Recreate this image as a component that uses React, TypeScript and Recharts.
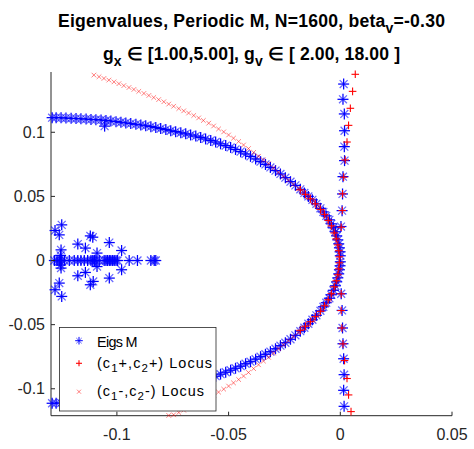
import React from 'react';
import { ScatterChart, Scatter, XAxis, YAxis, Legend } from 'recharts';

type Pt = [number, number];

// ---------- axis settings ----------
const xTickValues = [-0.1, -0.05, 0, 0.05];
const xTickLabels = ['-0.1', '-0.05', '0', '0.05'];
const yTickValues = [-0.1, -0.05, 0, 0.05, 0.1];
const yTickLabels = ['-0.1', '-0.05', '0', '0.05', '0.1'];
const xLimits: [number, number] = [-0.1295, 0.05];
const yLimits: [number, number] = [-0.121, 0.147];

// ---------- titles / legend ----------
const titleLine1 = { main: 'Eigenvalues, Periodic M, N=1600, beta', sub: 'v', tail: '=-0.30' };
const titleLine2 = ['g', 'x', ' \u2208 [1.00,5.00], g', 'v', ' \u2208 [ 2.00, 18.00 ]'];
const legendNames = ['Eigs M', '(c1+,c2+) Locus', '(c1-,c2-) Locus'];

// ---------- Eigs M (blue *) ----------
const eigsUpperBranch: Pt[] = [
  [-0.1290, 0.1114], [-0.1272, 0.1114], [-0.1250, 0.1113], [-0.1228, 0.1111], [-0.1205, 0.1109],
  [-0.1183, 0.1107], [-0.1161, 0.1105], [-0.1138, 0.1103], [-0.1116, 0.1100], [-0.1094, 0.1098],
  [-0.1071, 0.1096], [-0.1049, 0.1092], [-0.1027, 0.1088], [-0.1004, 0.1083], [-0.0982, 0.1078],
  [-0.0960, 0.1073], [-0.0938, 0.1068], [-0.0915, 0.1062], [-0.0893, 0.1057], [-0.0871, 0.1051],
  [-0.0848, 0.1044], [-0.0826, 0.1037], [-0.0804, 0.1029], [-0.0781, 0.1021], [-0.0759, 0.1012],
  [-0.0737, 0.1005], [-0.0714, 0.0996], [-0.0692, 0.0988], [-0.0670, 0.0979], [-0.0647, 0.0970],
  [-0.0625, 0.0960], [-0.0603, 0.0948], [-0.0580, 0.0936], [-0.0558, 0.0924], [-0.0536, 0.0910],
  [-0.0513, 0.0896], [-0.0491, 0.0882], [-0.0469, 0.0866], [-0.0446, 0.0849], [-0.0424, 0.0831],
  [-0.0402, 0.0812], [-0.0379, 0.0792], [-0.0357, 0.0771], [-0.0335, 0.0749], [-0.0313, 0.0726],
  [-0.0290, 0.0701], [-0.0268, 0.0675], [-0.0246, 0.0646], [-0.0223, 0.0615], [-0.0201, 0.0586],
  [-0.0179, 0.0555], [-0.0161, 0.0527], [-0.0143, 0.0500], [-0.0125, 0.0473], [-0.0107, 0.0442],
  [-0.0089, 0.0407], [-0.0076, 0.0379], [-0.0063, 0.0348], [-0.0049, 0.0317], [-0.0040, 0.0286],
  [-0.0031, 0.0255], [-0.0022, 0.0224], [-0.0016, 0.0192], [-0.0011, 0.0161], [-0.0007, 0.0130],
  [-0.0004, 0.0099], [-0.0001, 0.0068], [0.0000, 0.0037], [-0.1055, 0.1048],
];

const eigsLowerBranch: Pt[] = [
  [0.0000, -0.0010], [-0.0001, -0.0041], [-0.0004, -0.0072], [-0.0007, -0.0104], [-0.0011, -0.0135],
  [-0.0016, -0.0166], [-0.0022, -0.0197], [-0.0031, -0.0232], [-0.0040, -0.0267], [-0.0049, -0.0294],
  [-0.0063, -0.0329], [-0.0076, -0.0361], [-0.0089, -0.0392], [-0.0107, -0.0427], [-0.0125, -0.0462],
  [-0.0143, -0.0493], [-0.0161, -0.0524], [-0.0179, -0.0551], [-0.0201, -0.0583], [-0.0223, -0.0614],
  [-0.0246, -0.0641], [-0.0268, -0.0664], [-0.0290, -0.0688], [-0.0313, -0.0711], [-0.0335, -0.0731],
  [-0.0357, -0.0750], [-0.0379, -0.0769], [-0.0402, -0.0789], [-0.0424, -0.0805], [-0.0446, -0.0824],
  [-0.0469, -0.0840], [-0.0491, -0.0855], [-0.0513, -0.0871], [-0.0536, -0.0886], [-0.0558, -0.0902],
  [-0.0580, -0.0914], [-0.0603, -0.0925], [-0.0625, -0.0937], [-0.0647, -0.0949], [-0.0670, -0.0960],
  [-0.0692, -0.0970], [-0.0714, -0.0981], [-0.0737, -0.0990], [-0.0759, -0.0999], [-0.0781, -0.1009],
  [-0.0804, -0.1017], [-0.0826, -0.1026], [-0.0848, -0.1033], [-0.0871, -0.1041], [-0.0893, -0.1048],
  [-0.0915, -0.1054], [-0.0938, -0.1060], [-0.0960, -0.1065], [-0.0982, -0.1071], [-0.1004, -0.1076],
  [-0.1027, -0.1080], [-0.1049, -0.1085], [-0.1071, -0.1089], [-0.1094, -0.1093], [-0.1116, -0.1096],
  [-0.1138, -0.1099], [-0.1161, -0.1102], [-0.1183, -0.1104], [-0.1205, -0.1107], [-0.1228, -0.1109],
  [-0.1250, -0.1111], [-0.1272, -0.1112], [-0.1290, -0.1113],
];

const eigsRealAxisX: number[] = [
  -0.1280, -0.1268, -0.1258, -0.1247, -0.1235, -0.1213, -0.1191, -0.1175, -0.1161, -0.1146,
  -0.1131, -0.1116, -0.1108, -0.1101, -0.1094, -0.1079, -0.1057, -0.1049, -0.1042, -0.1034,
  -0.1027, -0.1019, -0.1012, -0.1004, -0.0997, -0.0945, -0.0908, -0.0848, -0.0833, -0.0826,
];

const eigsComplexCluster: Pt[] = [
  [-0.1247, 0.0278], [-0.1277, 0.0234], [-0.1258, 0.0200], [-0.1250, 0.0083], [-0.1252, 0.0040],
  [-0.1175, 0.0128], [-0.1141, 0.0097], [-0.1119, 0.0192], [-0.1108, 0.0182], [-0.1089, 0.0058],
  [-0.1034, 0.0140], [-0.0979, 0.0078],
  [-0.1250, -0.0059], [-0.1252, -0.0035], [-0.1175, -0.0119], [-0.1141, -0.0093], [-0.1119, -0.0189],
  [-0.1106, -0.0163], [-0.1089, -0.0047], [-0.1034, -0.0137], [-0.0979, -0.0072], [-0.1258, -0.0176],
  [-0.1277, -0.0228], [-0.1247, -0.0280],
];

const eigsVerticalLine: Pt[] = [
  [0.0015, 0.1376], [0.0012, 0.1257], [0.0018, 0.1143], [0.0019, 0.1012], [0.0018, 0.0888],
  [0.0019, 0.0779], [0.0012, 0.0654], [0.0010, 0.0519], [0.0008, 0.0389], [0.0003, 0.0265],
  [0.0004, -0.0259], [0.0008, -0.0389], [0.0010, -0.0526], [0.0012, -0.0649], [0.0015, -0.0766],
  [0.0017, -0.0890], [0.0015, -0.1012], [0.0017, -0.1137],
];

// ---------- (c1+,c2+) locus (red +) ----------
const plusVerticalLocus: Pt[] = [
  [0.0067, 0.1452], [0.0055, 0.1319], [0.0045, 0.1187], [0.0037, 0.1054], [0.0030, 0.0924],
  [0.0022, 0.0784], [0.0015, 0.0650], [0.0010, 0.0520], [0.0009, 0.0390], [0.0004, 0.0260],
  [0.0004, -0.0260], [0.0004, -0.0390], [0.0007, -0.0526], [0.0012, -0.0650], [0.0019, -0.0780],
  [0.0030, -0.0920], [0.0037, -0.1048], [0.0048, -0.1178],
];

const plusArcLocus: Pt[] = [
  [-0.0179, 0.0551], [-0.0156, 0.0516], [-0.0134, 0.0481], [-0.0112, 0.0442], [-0.0089, 0.0399],
  [-0.0071, 0.0360], [-0.0054, 0.0313], [-0.0040, 0.0270], [-0.0027, 0.0215], [-0.0018, 0.0169],
  [-0.0011, 0.0122], [-0.0007, 0.0076], [-0.0004, 0.0029], [-0.0004, -0.0018], [-0.0007, -0.0065],
  [-0.0011, -0.0111], [-0.0018, -0.0158], [-0.0027, -0.0205], [-0.0040, -0.0259], [-0.0054, -0.0306],
  [-0.0071, -0.0353], [-0.0089, -0.0396], [-0.0112, -0.0438], [-0.0134, -0.0477], [-0.0156, -0.0512],
  [-0.0179, -0.0544],
];

// ---------- (c1-,c2-) locus (red x) ----------
const minusLocusUpper: Pt[] = [
  [-0.1103, 0.1446], [-0.1080, 0.1433], [-0.1058, 0.1420], [-0.1036, 0.1407], [-0.1013, 0.1393],
  [-0.0991, 0.1379], [-0.0969, 0.1364], [-0.0946, 0.1349], [-0.0924, 0.1334], [-0.0902, 0.1319],
  [-0.0879, 0.1303], [-0.0857, 0.1287], [-0.0835, 0.1271], [-0.0813, 0.1255], [-0.0790, 0.1238],
  [-0.0768, 0.1220], [-0.0746, 0.1203], [-0.0723, 0.1185], [-0.0701, 0.1167], [-0.0679, 0.1150],
  [-0.0656, 0.1131], [-0.0634, 0.1112], [-0.0613, 0.1092], [-0.0589, 0.1071], [-0.0567, 0.1049],
  [-0.0545, 0.1026], [-0.0522, 0.1003], [-0.0500, 0.0979], [-0.0478, 0.0954], [-0.0455, 0.0928],
  [-0.0433, 0.0901], [-0.0411, 0.0873], [-0.0388, 0.0843], [-0.0366, 0.0813], [-0.0344, 0.0784],
  [-0.0321, 0.0755], [-0.0299, 0.0722], [-0.0277, 0.0687], [-0.0254, 0.0656], [-0.0232, 0.0625],
  [-0.0210, 0.0593], [-0.0188, 0.0562], [-0.0165, 0.0531], [-0.0143, 0.0500], [-0.0121, 0.0465],
  [-0.0098, 0.0422], [-0.0080, 0.0383], [-0.0063, 0.0344], [-0.0049, 0.0309], [-0.0036, 0.0262],
  [-0.0025, 0.0216], [-0.0016, 0.0169], [-0.0009, 0.0114], [-0.0004, 0.0068], [-0.0002, 0.0021],
];

const minusLocusLower: Pt[] = [
  [-0.0768, -0.1208], [-0.0746, -0.1203], [-0.0723, -0.1185], [-0.0701, -0.1167], [-0.0679, -0.1150],
  [-0.0656, -0.1131], [-0.0634, -0.1112], [-0.0613, -0.1092], [-0.0589, -0.1071], [-0.0567, -0.1049],
  [-0.0545, -0.1026], [-0.0522, -0.1003], [-0.0500, -0.0979], [-0.0478, -0.0954], [-0.0455, -0.0928],
  [-0.0433, -0.0901], [-0.0411, -0.0873], [-0.0388, -0.0843], [-0.0366, -0.0813], [-0.0344, -0.0784],
  [-0.0321, -0.0755], [-0.0299, -0.0722], [-0.0277, -0.0687], [-0.0254, -0.0656], [-0.0232, -0.0625],
  [-0.0210, -0.0593], [-0.0188, -0.0562], [-0.0165, -0.0531], [-0.0143, -0.0500], [-0.0121, -0.0465],
  [-0.0098, -0.0422], [-0.0080, -0.0383], [-0.0063, -0.0344], [-0.0049, -0.0309], [-0.0036, -0.0262],
  [-0.0025, -0.0216], [-0.0016, -0.0169], [-0.0009, -0.0114], [-0.0004, -0.0068], [-0.0002, -0.0021],
];

// ---------- build series ----------
const toPoints = (arr: Pt[]) => arr.map(([x, y]) => ({ x, y }));

const eigsData = [
  ...toPoints(eigsUpperBranch),
  ...toPoints(eigsLowerBranch),
  ...eigsRealAxisX.map((x) => ({ x, y: 0 })),
  ...toPoints(eigsComplexCluster),
  ...toPoints(eigsVerticalLine),
];
const plusData = [...toPoints(plusVerticalLocus), ...toPoints(plusArcLocus)];
const minusData = [...toPoints(minusLocusUpper), ...toPoints(minusLocusLower)];

const AXIS = '#262626';
const FONT = "'Liberation Sans', Arial, Helvetica, sans-serif";
const BLUE = '#0000ff';
const RED = '#ff0000';

function StarGlyph({ cx, cy, r, w = 1 }: { cx: number; cy: number; r: number; w?: number }) {
  const d = r * 0.72;
  return (
    <g stroke={BLUE} strokeWidth={w} fill="none">
      <line x1={cx - r} y1={cy} x2={cx + r} y2={cy} />
      <line x1={cx} y1={cy - r} x2={cx} y2={cy + r} />
      <line x1={cx - d} y1={cy - d} x2={cx + d} y2={cy + d} strokeOpacity={0.6} />
      <line x1={cx - d} y1={cy + d} x2={cx + d} y2={cy - d} strokeOpacity={0.6} />
    </g>
  );
}

function PlusGlyph({ cx, cy, r }: { cx: number; cy: number; r: number }) {
  return (
    <g stroke={RED} strokeWidth={1.1} fill="none">
      <line x1={cx - r} y1={cy} x2={cx + r} y2={cy} />
      <line x1={cx} y1={cy - r} x2={cx} y2={cy + r} />
    </g>
  );
}

function CrossGlyph({ cx, cy, r }: { cx: number; cy: number; r: number }) {
  return (
    <g stroke={RED} strokeWidth={1} strokeOpacity={0.5} fill="none">
      <line x1={cx - r} y1={cy - r} x2={cx + r} y2={cy + r} />
      <line x1={cx - r} y1={cy + r} x2={cx + r} y2={cy - r} />
    </g>
  );
}

const starShape = (p: any) => (p.cx == null ? <g /> : <StarGlyph cx={p.cx} cy={p.cy} r={5.5} w={1.25} />);
const plusShape = (p: any) => (p.cx == null ? <g /> : <PlusGlyph cx={p.cx} cy={p.cy} r={3.8} />);
const crossShape = (p: any) => (p.cx == null ? <g /> : <CrossGlyph cx={p.cx} cy={p.cy} r={2.3} />);

function XTick(props: any) {
  const { x, y, payload } = props;
  const i = xTickValues.indexOf(payload.value);
  return (
    <g>
      <line x1={x} y1={y} x2={x} y2={y - 4} stroke={AXIS} strokeWidth={1} />
      <text x={x} y={y + 24} textAnchor="middle" fontSize={16} fontFamily={FONT} fill={AXIS}>
        {i >= 0 ? xTickLabels[i] : String(payload.value)}
      </text>
    </g>
  );
}

function YTick(props: any) {
  const { x, y, payload } = props;
  const i = yTickValues.indexOf(payload.value);
  return (
    <g>
      <line x1={x} y1={y} x2={x + 4} y2={y} stroke={AXIS} strokeWidth={1} />
      <text x={x - 6} y={y + 5.7} textAnchor="end" fontSize={16} fontFamily={FONT} fill={AXIS}>
        {i >= 0 ? yTickLabels[i] : String(payload.value)}
      </text>
    </g>
  );
}

function LegendBox() {
  const sub = { fontSize: 11.5 };
  return (
    <svg width={158} height={85} style={{ display: 'block', overflow: 'visible' }}>
      <rect x={0.5} y={0.5} width={156.5} height={83.5} fill="#ffffff" stroke={AXIS} strokeWidth={0.8} />
      <StarGlyph cx={20} cy={13.7} r={3.8} />
      <PlusGlyph cx={20} cy={36.3} r={3} />
      <CrossGlyph cx={20} cy={64.7} r={2} />
      <text x={38} y={19.7} fontSize={14.4} fontFamily={FONT} fill="#000" textLength={40.5} lengthAdjust="spacing">
        {legendNames[0]}
      </text>
      <text x={38} y={40.7} fontSize={14.4} fontFamily={FONT} fill="#000" textLength={115} lengthAdjust="spacing">
        (c<tspan dy={4} {...sub}>1</tspan><tspan dy={-4}>+,c</tspan><tspan dy={4} {...sub}>2</tspan>
        <tspan dy={-4}>+) Locus</tspan>
      </text>
      <text x={38} y={68.7} fontSize={14.4} fontFamily={FONT} fill="#000" textLength={107} lengthAdjust="spacing">
        (c<tspan dy={4} {...sub}>1</tspan><tspan dy={-4}>-,c</tspan><tspan dy={4} {...sub}>2</tspan>
        <tspan dy={-4}>-) Locus</tspan>
      </text>
    </svg>
  );
}

export default function App() {
  return (
    <div style={{ position: 'absolute', left: 0, top: 0, width: 474, height: 449, background: '#fff' }}>
      <ScatterChart
        width={474}
        height={449}
        margin={{ top: 72, right: 22, bottom: 32.3, left: 50 }}
        style={{ background: '#ffffff' }}
      >
        <XAxis
          type="number"
          dataKey="x"
          domain={xLimits}
          ticks={xTickValues}
          height={1}
          tickSize={0}
          tickMargin={0}
          tick={XTick}
          axisLine={{ stroke: AXIS, strokeWidth: 1 }}
          tickLine={false}
          interval={0}
        />
        <YAxis
          type="number"
          dataKey="y"
          domain={yLimits}
          ticks={yTickValues}
          width={1}
          tickSize={0}
          tickMargin={0}
          tick={YTick}
          axisLine={{ stroke: AXIS, strokeWidth: 1 }}
          tickLine={false}
          interval={0}
        />
        <Legend
          layout="vertical"
          align="center"
          verticalAlign="middle"
          width={158}
          height={85}
          wrapperStyle={{ left: 59, top: 327, width: 158, height: 85 }}
          content={() => <LegendBox />}
        />
        <Scatter name={legendNames[0]} data={eigsData} shape={starShape} isAnimationActive={false} />
        <Scatter name={legendNames[1]} data={plusData} shape={plusShape} isAnimationActive={false} />
        <Scatter name={legendNames[2]} data={minusData} shape={crossShape} isAnimationActive={false} />
      </ScatterChart>
      <svg
        width={474}
        height={80}
        style={{ position: 'absolute', left: 0, top: 0, pointerEvents: 'none' }}
      >
        <text x={251.5} y={27.3} textAnchor="middle" fontSize={17.6} fontWeight="bold" fontFamily={FONT} fill="#000" textLength={387} lengthAdjust="spacing">
          {titleLine1.main}
          <tspan dy={6} fontSize={14}>{titleLine1.sub}</tspan>
          <tspan dy={-6}>{titleLine1.tail}</tspan>
        </text>
        <text x={251.5} y={59.5} textAnchor="middle" fontSize={17.6} fontWeight="bold" fontFamily={FONT} fill="#000" textLength={297} lengthAdjust="spacing">
          {titleLine2[0]}
          <tspan dy={6} fontSize={14}>{titleLine2[1]}</tspan>
          <tspan dy={-6}>{titleLine2[2]}</tspan>
          <tspan dy={6} fontSize={14}>{titleLine2[3]}</tspan>
          <tspan dy={-6}>{titleLine2[4]}</tspan>
        </text>
      </svg>
    </div>
  );
}
